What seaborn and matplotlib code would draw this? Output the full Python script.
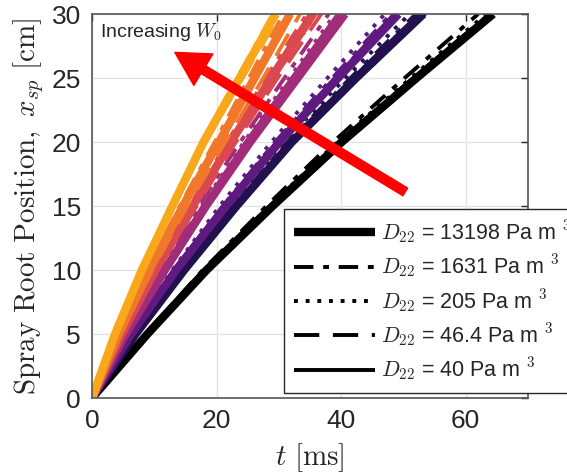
import numpy as np
import pandas as pd
import matplotlib
matplotlib.use("Agg")
import matplotlib.pyplot as plt
from matplotlib.lines import Line2D
import seaborn as sns

# ---------------- data ----------------
# spray root position levels (cm) at which times were read
X_LEVELS = [0, 5, 10, 15, 20, 25, 30]

# D22 values (line styles)
D22_LABELS = ["13198", "1631", "205", "46.4", "40"]

# W0 groups (colors), from smallest W0 (black) to largest (yellow)
W0_GROUPS = ["W1", "W2", "W3", "W4", "W5", "W6", "W7"]
W0_COLORS = ["#000000", "#22104f", "#5e1a7e", "#a02c7a", "#d9494f", "#f1772b", "#f9a81b"]

# time (ms) at each X_LEVEL, one row per D22 (order of D22_LABELS)
T_W1 = [[0, 8.9, 18.4, 29.0, 40.1, 52.1, 64.4],
        [0, 8.6, 17.8, 28.0, 38.7, 50.2, 62.0],
        [0, 8.7, 18.1, 28.5, 39.4, 51.2, 63.3],
        [0, 8.8, 18.2, 28.7, 39.7, 51.6, 63.8],
        [0, 8.8, 18.3, 28.8, 39.9, 51.8, 64.0]]
T_W2 = [[0, 7.0, 14.8, 23.2, 32.1, 42.4, 53.2],
        [0, 6.8, 14.5, 22.7, 31.4, 41.5, 52.0],
        [0, 6.7, 14.2, 22.2, 30.8, 40.7, 51.0],
        [0, 6.9, 14.6, 22.9, 31.7, 41.9, 52.5],
        [0, 7.0, 14.9, 23.3, 32.3, 42.6, 53.5]]
T_W3 = [[0, 6.3, 13.5, 21.5, 30.1, 39.5, 49.2],
        [0, 6.2, 13.2, 21.0, 29.4, 38.6, 48.0],
        [0, 6.0, 12.9, 20.5, 28.8, 37.8, 47.0],
        [0, 6.2, 13.3, 21.2, 29.7, 39.0, 48.5],
        [0, 6.3, 13.4, 21.4, 30.0, 39.3, 49.0]]
T_W4 = [[0, 5.4, 11.7, 18.3, 25.4, 33.0, 40.6],
        [0, 5.0, 10.9, 17.1, 23.8, 30.9, 38.0],
        [0, 5.2, 11.2, 17.6, 24.4, 31.7, 39.0],
        [0, 5.3, 11.5, 18.0, 25.0, 32.5, 40.0],
        [0, 5.2, 11.4, 17.8, 24.7, 32.1, 39.5]]
T_W5 = [[0, 4.8, 10.2, 16.2, 22.3, 28.8, 35.5],
        [0, 4.6, 9.9, 15.7, 21.7, 27.9, 34.5],
        [0, 4.8, 10.4, 16.4, 22.6, 29.2, 36.0],
        [0, 4.9, 10.6, 16.8, 23.1, 29.8, 36.8],
        [0, 4.7, 10.1, 15.9, 22.0, 28.4, 35.0]]
T_W6 = [[0, 4.3, 9.2, 14.6, 20.4, 26.1, 31.8],
        [0, 4.1, 8.9, 14.1, 19.7, 25.2, 30.7],
        [0, 4.3, 9.3, 14.7, 20.5, 26.3, 32.0],
        [0, 4.5, 9.7, 15.3, 21.4, 27.5, 33.4],
        [0, 4.2, 9.2, 14.5, 20.2, 25.9, 31.5]]
T_W7 = [[0, 3.7, 8.0, 12.9, 17.9, 23.7, 29.5],
        [0, 3.7, 7.8, 12.7, 17.6, 23.3, 29.0],
        [0, 3.8, 8.0, 13.0, 18.1, 23.9, 29.8],
        [0, 3.8, 8.1, 13.2, 18.3, 24.2, 30.2],
        [0, 3.7, 7.9, 12.8, 17.7, 23.4, 29.2]]
T_ALL = [T_W1, T_W2, T_W3, T_W4, T_W5, T_W6, T_W7]

X_TICKS = [0, 20, 40, 60]
Y_TICKS = [0, 5, 10, 15, 20, 25, 30]

# ---------------- long-form table ----------------
rows = []
for g, tg in zip(W0_GROUPS, T_ALL):
    for d, tl in zip(D22_LABELS, tg):
        for t, x in zip(tl, X_LEVELS):
            rows.append({"t": t, "x": x, "W0": g, "D22": d})
df = pd.DataFrame(rows)

# ---------------- style ----------------
sns.set_style("white")
plt.rcParams["font.family"] = ["Liberation Sans", "DejaVu Sans"]
plt.rcParams["mathtext.fontset"] = "cm"

fig = plt.figure(figsize=(5.67, 4.74), dpi=100)
ax = fig.add_axes([92 / 567, 76 / 474, 436 / 567, 384 / 474])

line_w = {"13198": 6.0, "1631": 2.8, "205": 2.8, "46.4": 2.8, "40": 2.8}
dash_map = {"13198": "", "1631": (5, 2.5, 1.5, 2.5), "205": (1, 2),
            "46.4": (6.5, 3.5), "40": ""}

sns.lineplot(data=df, x="t", y="x", hue="W0", hue_order=W0_GROUPS,
             palette=dict(zip(W0_GROUPS, W0_COLORS)),
             style="D22", style_order=D22_LABELS, dashes=dash_map,
             size="D22", size_order=D22_LABELS, sizes=line_w,
             estimator=None, errorbar=None, sort=False, legend=False, ax=ax)
for ln in ax.get_lines():
    ln.set_solid_capstyle("butt")
    ln.set_dash_capstyle("butt")
    ln.set_solid_joinstyle("round")

ax.set_xlim(0, 70)
ax.set_ylim(0, 30)
ax.set_xticks(X_TICKS)
ax.set_yticks(Y_TICKS)
ax.grid(True, color="#e3e3e3", linewidth=1.0)
ax.set_axisbelow(True)
ax.tick_params(direction="in", top=True, right=True, length=5, width=1,
               colors="#262626", labelsize=19, pad=8)
for s in ax.spines.values():
    s.set_visible(True)
    s.set_color("#555555")
    s.set_linewidth(1.2)

ax.set_xlabel(r"$t\ [\mathrm{ms}]$", fontsize=21, labelpad=6)
ax.set_ylabel(r"$\mathrm{Spray\ Root\ Position,}\ x_{sp}\ [\mathrm{cm}]$",
              fontsize=21, labelpad=4)

# annotation and arrow
ax.text(1.3, 28.6, r"Increasing $W_0$", fontsize=14, color="#262626",
        va="center", ha="left")
ax.annotate("", xy=(13.3, 27.0), xytext=(50.3, 16.1),
            arrowprops=dict(arrowstyle="simple,head_length=1.0,head_width=1.1,tail_width=0.27",
                            color="red", mutation_scale=24, shrinkA=0, shrinkB=0),
            zorder=5)

# legend
handles = []
labels = []
for d in D22_LABELS:
    kw = dict(color="black", linewidth=line_w[d])
    if dash_map[d] != "":
        kw["dashes"] = dash_map[d]
    h = Line2D([], [], **kw)
    h.set_solid_capstyle("butt")
    h.set_dash_capstyle("butt")
    handles.append(h)
    labels.append(r"$D_{22}$ = " + d + r" Pa m $^{\mathsf{3}}$")
leg = ax.legend(handles, labels, loc="upper left", bbox_to_anchor=(0.44, 0.492),
                borderaxespad=0, fontsize=15.5, handlelength=3.8, handletextpad=0.25,
                labelspacing=0.32, borderpad=0.45, frameon=True, fancybox=False,
                framealpha=1, edgecolor="#262626")
leg.get_frame().set_linewidth(1.0)
leg.set_zorder(10)

fig.savefig("out.png", dpi=100)
